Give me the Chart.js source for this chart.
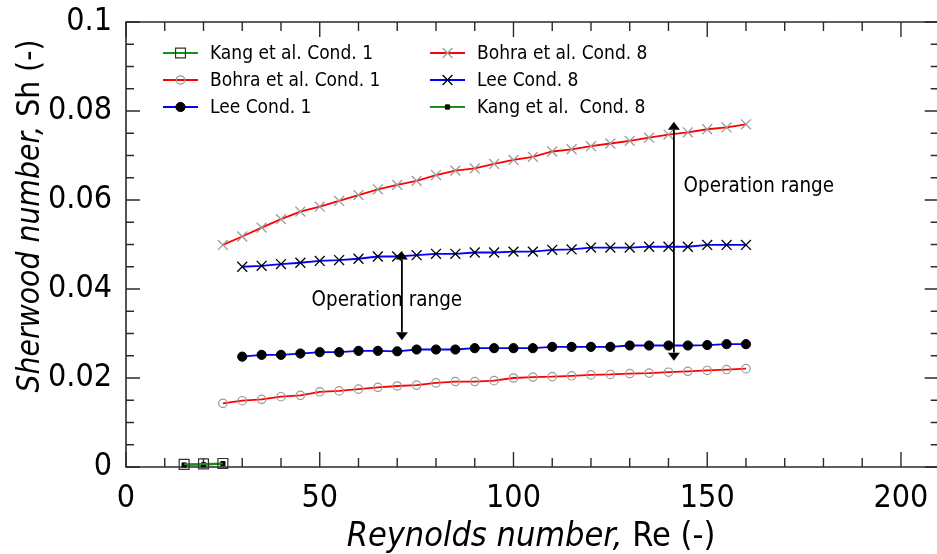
<!DOCTYPE html>
<html><head><meta charset="utf-8">
<script src="https://cdn.jsdelivr.net/npm/chart.js@4/dist/chart.umd.min.js"></script>
<style>html,body{margin:0;padding:0;background:#fff;overflow:hidden;}#wrap{width:937px;height:554px;}canvas{display:block;}</style>
</head><body><div id="wrap"><canvas id="c" width="937" height="554" style="width:937px;height:554px"></canvas></div>
<script>
// ---- data ----
const reKang = [15, 20, 25];
const shKangCond1 = [0.0006, 0.0007, 0.0008];
const shKangCond8 = [0.00045, 0.0005, 0.00075];

const reBohra = [25,30,35,40,45,50,55,60,65,70,75,80,85,90,95,100,105,110,115,120,125,130,135,140,145,150,155,160];
const shBohraCond1 = [0.0143,0.0149,0.0152,0.0158,0.0161,0.0169,0.0171,0.0175,0.0179,0.0182,0.0184,0.0189,0.0192,0.0192,0.0194,
                      0.0200,0.0202,0.0203,0.0205,0.0207,0.0208,0.0210,0.0211,0.0213,0.0215,0.0217,0.0219,0.0221];
const shBohraCond8 = [0.0499,0.0518,0.0538,0.0557,0.0574,0.0585,0.0598,0.0611,0.0624,0.0634,0.0643,0.0656,0.0666,0.0671,0.0681,
                      0.0690,0.0697,0.0709,0.0714,0.0721,0.0727,0.0733,0.0740,0.0747,0.0752,0.0759,0.0763,0.0770];

const reLee = [30,35,40,45,50,55,60,65,70,75,80,85,90,95,100,105,110,115,120,125,130,135,140,145,150,155,160];
const shLeeCond1 = [0.0248,0.0252,0.0252,0.0255,0.0258,0.0258,0.0261,0.0261,0.0260,0.0264,0.0264,0.0264,0.0267,0.0267,
                    0.0267,0.0267,0.0270,0.0270,0.0270,0.0270,0.0273,0.0273,0.0273,0.0273,0.0274,0.0276,0.0276];
const shLeeCond8 = [0.0450,0.0452,0.0456,0.0459,0.0463,0.0465,0.0468,0.0473,0.0473,0.0476,0.0479,0.0479,0.0482,0.0482,
                    0.0484,0.0484,0.0488,0.0489,0.0493,0.0493,0.0493,0.0495,0.0495,0.0495,0.0499,0.0499,0.0499];

const xTicks = [0, 50, 100, 150, 200];
const xTickLabels = ['0', '50', '100', '150', '200'];
const yTicks = [0, 0.02, 0.04, 0.06, 0.08, 0.1];
const yTickLabels = ['0', '0.02', '0.04', '0.06', '0.08', '0.1'];
const xMax = 209.3;   // visible end of the Reynolds axis (frame is cut at the right edge)

const arrowAnnotations = [
  {x: 71.2, yTop: 0.0484, yBottom: 0.0285, label: 'Operation range', lx: 47.9, ly: 0.0374},
  {x: 141.4, yTop: 0.0776, yBottom: 0.0239, label: 'Operation range', lx: 143.9, ly: 0.0629}
];

// ---- styling ----
const FONT = '"DejaVu Sans Condensed", "DejaVu Sans", sans-serif';
const RED = '#ff0000', BLUE = '#0000ff', GREEN = '#149614', GRAY = '#9a9a9a', BLACK = '#000000';

const pts = (xs, ys) => xs.map((v, i) => ({x: v, y: ys[i]}));

const datasets = [
  {label: 'Kang et al. Cond. 1', data: pts(reKang, shKangCond1), borderColor: GREEN, borderWidth: 2,
   pointStyle: 'rect', pointRadius: 7, pointBorderColor: '#333', pointBackgroundColor: 'rgba(0,0,0,0)', pointBorderWidth: 1.2},
  {label: 'Bohra et al. Cond. 1', data: pts(reBohra, shBohraCond1), borderColor: RED, borderWidth: 1.8,
   pointStyle: 'circle', pointRadius: 4.2, pointBorderColor: GRAY, pointBackgroundColor: 'rgba(255,255,255,0)', pointBorderWidth: 1.2},
  {label: 'Lee Cond. 1', data: pts(reLee, shLeeCond1), borderColor: BLUE, borderWidth: 1.8,
   pointStyle: 'circle', pointRadius: 4.6, pointBorderColor: BLACK, pointBackgroundColor: BLACK, pointBorderWidth: 1},
  {label: 'Bohra et al. Cond. 8', data: pts(reBohra, shBohraCond8), borderColor: RED, borderWidth: 1.8,
   pointStyle: 'crossRot', pointRadius: 7, pointBorderColor: GRAY, pointBackgroundColor: GRAY, pointBorderWidth: 1.3},
  {label: 'Lee Cond. 8', data: pts(reLee, shLeeCond8), borderColor: BLUE, borderWidth: 1.8,
   pointStyle: 'crossRot', pointRadius: 7, pointBorderColor: BLACK, pointBackgroundColor: BLACK, pointBorderWidth: 1.3},
  {label: 'Kang et al.  Cond. 8', data: pts(reKang, shKangCond8), borderColor: GREEN, borderWidth: 2,
   pointStyle: 'rect', pointRadius: 3, pointBorderColor: BLACK, pointBackgroundColor: BLACK, pointBorderWidth: 1}
];
datasets.forEach(d => { d.fill = false; d.tension = 0; d.showLine = true; d.clip = false; });

function drawMarker(ctx, ds, x, y) {
  const r = ds.pointRadius;
  ctx.save();
  ctx.lineWidth = ds.pointBorderWidth;
  ctx.strokeStyle = ds.pointBorderColor;
  ctx.fillStyle = ds.pointBackgroundColor;
  ctx.beginPath();
  if (ds.pointStyle === 'circle') {
    ctx.arc(x, y, r, 0, Math.PI * 2);
    ctx.fill(); ctx.stroke();
  } else if (ds.pointStyle === 'rect') {
    const s = r / Math.SQRT2;
    ctx.rect(x - s, y - s, 2 * s, 2 * s);
    ctx.fill(); ctx.stroke();
  } else if (ds.pointStyle === 'crossRot') {
    const o = r * Math.cos(Math.PI / 4);
    ctx.moveTo(x - o, y - o); ctx.lineTo(x + o, y + o);
    ctx.moveTo(x - o, y + o); ctx.lineTo(x + o, y - o);
    ctx.stroke();
  }
  ctx.restore();
}

const framePlugin = {
  id: 'frame',
  beforeDatasetsDraw(chart) {
    const {ctx, chartArea: a, scales: {x, y}} = chart;
    const R = x.getPixelForValue(xMax);
    ctx.save();
    ctx.strokeStyle = '#2a2a2a';
    ctx.lineWidth = 1.6;
    ctx.beginPath();
    ctx.moveTo(R + 2, a.top); ctx.lineTo(a.left, a.top); ctx.lineTo(a.left, a.bottom); ctx.lineTo(R + 2, a.bottom);
    ctx.stroke();
    ctx.lineWidth = 1.4;
    ctx.beginPath();
    for (let i = 0; i <= 20; i++) {
      const px = x.getPixelForValue(i * 10);
      const L = (i % 5 === 0) ? 15 : 9;
      ctx.moveTo(px, a.bottom); ctx.lineTo(px, a.bottom - L);
      ctx.moveTo(px, a.top); ctx.lineTo(px, a.top + L);
    }
    const rightAxis = x.getPixelForValue(210);
    for (let i = 0; i <= 20; i++) {
      const py = y.getPixelForValue(i * 0.005);
      const L = (i % 4 === 0) ? 14 : 8;
      ctx.moveTo(a.left, py); ctx.lineTo(a.left + L, py);
      ctx.moveTo(rightAxis, py); ctx.lineTo(rightAxis - L - 1, py);
    }
    ctx.stroke();
    ctx.restore();
  },
  afterDraw(chart) {
    const {ctx, scales: {x, y}} = chart;
    ctx.save();
    arrowAnnotations.forEach(an => {
      const px = x.getPixelForValue(an.x);
      const pt = y.getPixelForValue(an.yTop);
      const pb = y.getPixelForValue(an.yBottom);
      const hl = 8, hw = 6;
      ctx.strokeStyle = BLACK; ctx.fillStyle = BLACK; ctx.lineWidth = 1.8;
      ctx.beginPath(); ctx.moveTo(px, pt + hl); ctx.lineTo(px, pb - hl); ctx.stroke();
      ctx.beginPath(); ctx.moveTo(px, pt); ctx.lineTo(px - hw, pt + hl); ctx.lineTo(px + hw, pt + hl); ctx.closePath(); ctx.fill();
      ctx.beginPath(); ctx.moveTo(px, pb); ctx.lineTo(px - hw, pb - hl); ctx.lineTo(px + hw, pb - hl); ctx.closePath(); ctx.fill();
      ctx.font = '20.4px ' + FONT;
      ctx.textAlign = 'left'; ctx.textBaseline = 'middle';
      ctx.fillText(an.label, x.getPixelForValue(an.lx), y.getPixelForValue(an.ly));
    });
    const cols = [[0, 1, 2], [3, 4, 5]];
    const colX = [163, 430];
    const rowY = [53, 80, 107];
    ctx.font = '19px ' + FONT;
    ctx.textBaseline = 'middle'; ctx.textAlign = 'left';
    cols.forEach((col, ci) => {
      col.forEach((di, ri) => {
        const ds = chart.data.datasets[di];
        const lx = colX[ci], ly = rowY[ri];
        ctx.strokeStyle = ds.borderColor; ctx.lineWidth = 2;
        ctx.beginPath(); ctx.moveTo(lx, ly); ctx.lineTo(lx + 35, ly); ctx.stroke();
        drawMarker(ctx, ds, lx + 17.5, ly);
        ctx.fillStyle = BLACK;
        ctx.fillText(ds.label, lx + 47, ly + 1);
      });
    });
    ctx.fillStyle = BLACK;
    ctx.textBaseline = 'alphabetic';
    const drawTitle = (italic, upright, cx, cy, rot, tsize) => {
      ctx.save();
      ctx.translate(cx, cy);
      ctx.rotate(rot);
      ctx.font = 'italic ' + tsize + 'px ' + FONT;
      const w1 = ctx.measureText(italic).width;
      ctx.font = tsize + 'px ' + FONT;
      const w2 = ctx.measureText(upright).width;
      const sx = -(w1 + w2) / 2;
      ctx.textAlign = 'left';
      ctx.font = 'italic ' + tsize + 'px ' + FONT;
      ctx.fillText(italic, sx, 0);
      ctx.font = tsize + 'px ' + FONT;
      ctx.fillText(upright, sx + w1, 0);
      ctx.restore();
    };
    drawTitle('Reynolds number,', ' Re (-)', 531, 546, 0, 34);
    drawTitle('Sherwood number,', ' Sh (-)', 39, 216, -Math.PI / 2, 31.5);
    ctx.restore();
  }
};

new Chart(document.getElementById('c'), {
  type: 'scatter',
  data: {datasets},
  options: {
    responsive: false,
    animation: false,
    layout: {autoPadding: false, padding: {top: 22, right: 0, left: 0, bottom: 0}},
    plugins: {legend: {display: false}, tooltip: {enabled: false}},
    scales: {
      x: {
        type: 'linear', min: 0, max: xMax,
        grid: {display: true, drawOnChartArea: false, drawTicks: true, tickLength: 12, tickColor: 'rgba(0,0,0,0)'},
        border: {display: false},
        afterBuildTicks: s => { s.ticks = xTicks.map(v => ({value: v})); },
        afterFit: s => { s.height = 87; },
        ticks: {font: {family: FONT, size: 32}, color: BLACK, padding: 0, maxRotation: 0, autoSkip: false,
                callback: v => { const i = xTicks.indexOf(v); return i >= 0 ? xTickLabels[i] : ''; }}
      },
      y: {
        type: 'linear', min: 0, max: 0.1,
        grid: {display: true, drawOnChartArea: false, drawTicks: true, tickLength: 14, tickColor: 'rgba(0,0,0,0)'},
        border: {display: false},
        afterBuildTicks: s => { s.ticks = yTicks.map(v => ({value: v})); },
        afterFit: s => { s.width = 126; },
        ticks: {font: {family: FONT, size: 32}, color: BLACK, padding: 0, autoSkip: false,
                callback: v => { const i = yTicks.findIndex(t => Math.abs(t - v) < 1e-9); return i >= 0 ? yTickLabels[i] : ''; }}
      }
    }
  },
  plugins: [framePlugin]
});
</script>
</body></html>
